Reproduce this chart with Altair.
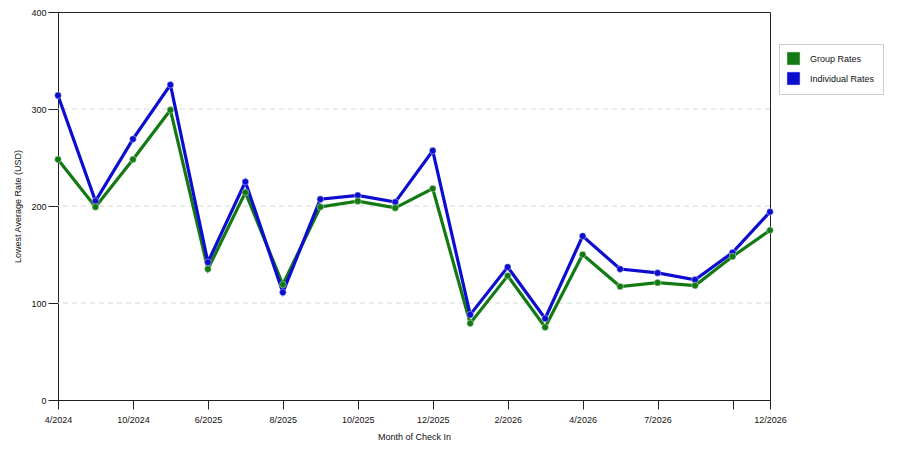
import altair as alt
import pandas as pd

# tick labels for the 20 months on the x axis ("" = not shown in the original)
months = ["4/2024", "", "10/2024", "", "6/2025", "", "8/2025", "", "10/2025", "",
          "12/2025", "", "2/2026", "", "4/2026", "", "7/2026", "", "", "12/2026"]

group_rates = [248, 199, 248, 299, 135, 214, 119, 199, 205, 198,
               218, 79, 128, 75, 150, 117, 121, 118, 148, 175]
individual_rates = [314, 205, 269, 325, 142, 225, 111, 207, 211, 204,
                    257, 88, 137, 84, 169, 135, 131, 124, 152, 194]

series = ["Group Rates", "Individual Rates"]
colors = ["#137a13", "#0d0dcf"]
y_ticks = [0, 100, 200, 300, 400]
grid_lines = [100, 200, 300]

rows = []
for i, (g, b) in enumerate(zip(group_rates, individual_rates)):
    rows.append({"idx": i, "series": series[0], "rate": g, "order": 1})
    rows.append({"idx": i, "series": series[1], "rate": b, "order": 0})
df = pd.DataFrame(rows)

font = "Liberation Sans"
label_expr = "[" + ",".join("'%s'" % m for m in months) + "][datum.value]"
tick_vals = list(range(0, 19, 2)) + [19]

x = alt.X(
    "idx:Q",
    scale=alt.Scale(domain=[0, 19], nice=False, zero=False),
    axis=alt.Axis(
        title="Month of Check In", values=tick_vals, labelExpr=label_expr,
        grid=False, tickSize=9, labelPadding=6, titlePadding=8,
        labelFlush=False, labelOverlap=False,
    ),
)
y_scale = alt.Scale(domain=[0, 400], nice=False)
y = alt.Y(
    "rate:Q",
    scale=y_scale,
    axis=alt.Axis(
        title="Lowest Average Rate (USD)", values=y_ticks,
        tickSize=10, labelPadding=2, titlePadding=8, grid=False,
    ),
)
color = alt.Color(
    "series:N",
    scale=alt.Scale(domain=series, range=colors),
    legend=alt.Legend(
        title=None, orient="none", legendX=721, legendY=32,
        symbolType="square", symbolSize=150, symbolStrokeWidth=0.5,
        symbolStrokeColor="#333", padding=8, rowPadding=5,
        strokeColor="#cccccc", fillColor="white", labelOffset=10,
    ),
)

grid = (
    alt.Chart(pd.DataFrame({"g": grid_lines}))
    .mark_rule(strokeDash=[5, 4], color="#d8d8d8", strokeWidth=1)
    .encode(y=alt.Y("g:Q", scale=y_scale))
)

base = alt.Chart(df).encode(x=x, y=y, color=color, detail="series:N",
                            order=alt.Order("order:Q"))

lines = base.mark_line(strokeWidth=3.2)
points = base.mark_circle(size=45, opacity=1, stroke="white",
                          strokeWidth=0.8, strokeOpacity=0.5)

chart = (
    alt.layer(grid, lines, points)
    .properties(width=712, height=388, autosize=alt.AutoSizeParams(type="none"),
                padding={"left": 50, "top": 4, "right": 122, "bottom": 40})
    .configure(font=font)
    .configure_view(stroke="#222", strokeWidth=1)
    .configure_axis(
        labelFont=font, titleFont=font, labelFontSize=9, titleFontSize=9,
        titleFontWeight="normal", labelColor="#111", titleColor="#111",
        domainColor="#222", tickColor="#222",
    )
    .configure_legend(labelFont=font, labelFontSize=9, labelColor="#111")
)

chart.save("out.html", embed_options={"renderer": "svg", "actions": False})
